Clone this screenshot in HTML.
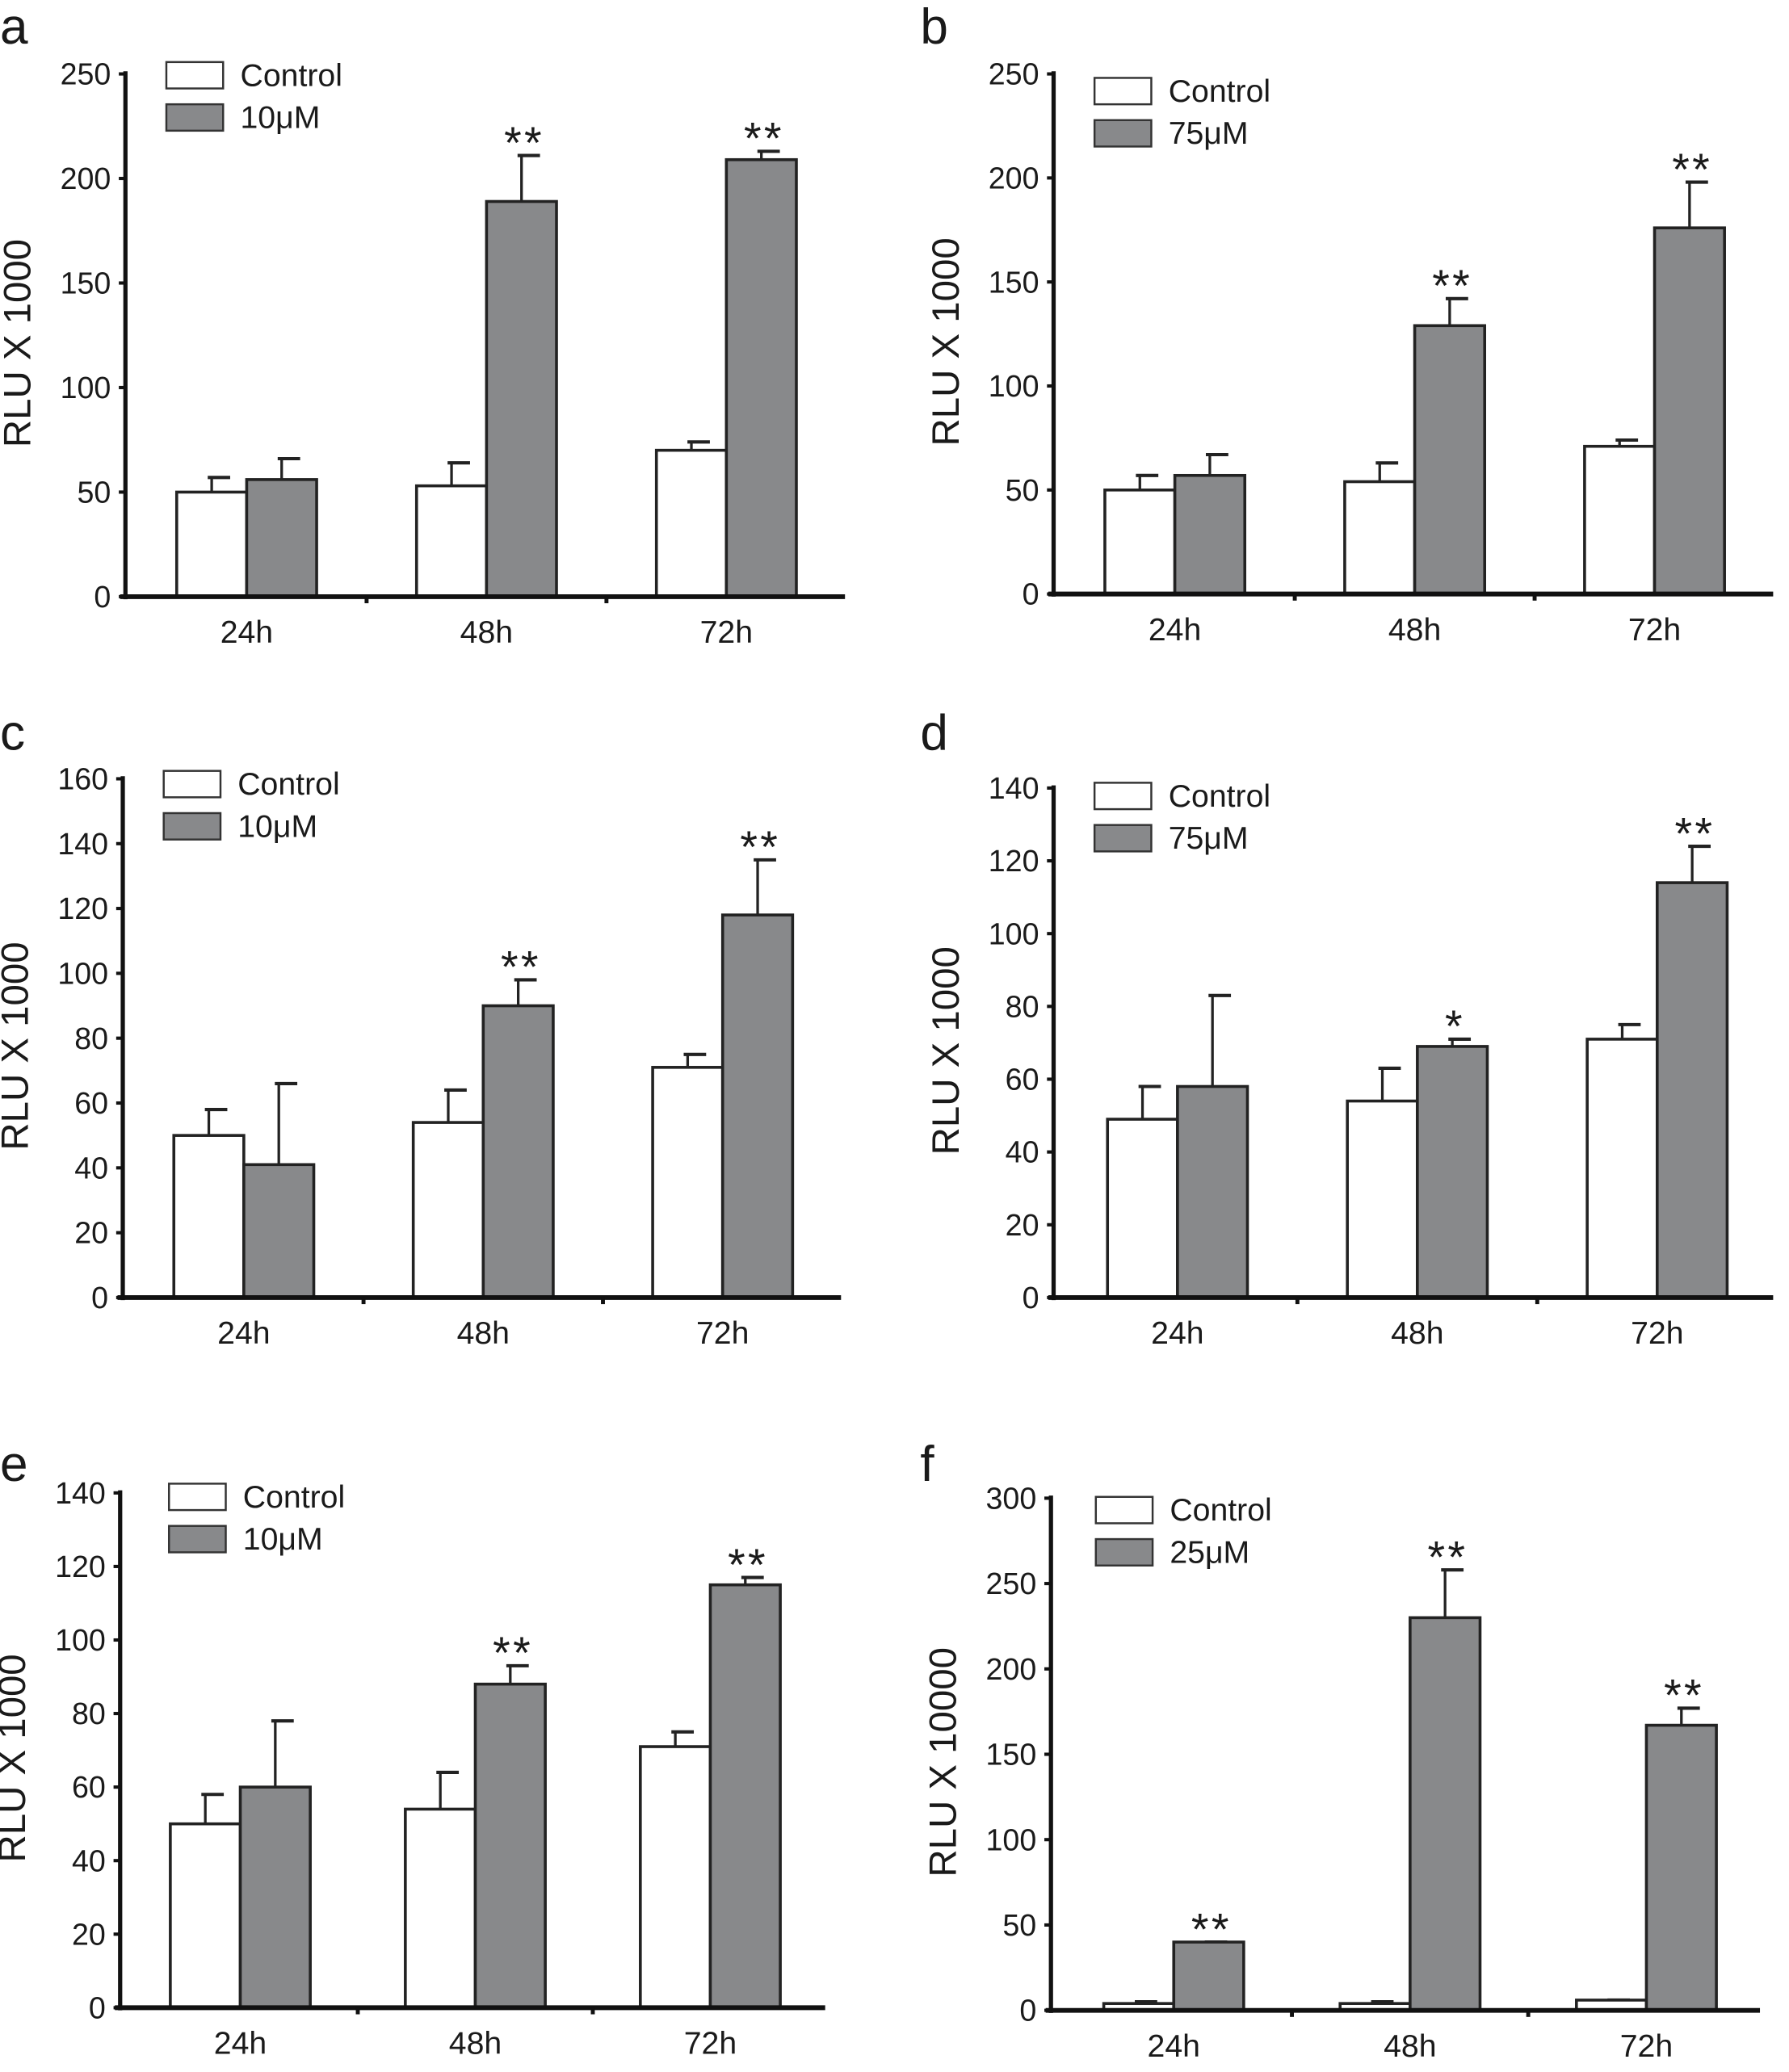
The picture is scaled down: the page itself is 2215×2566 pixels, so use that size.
<!DOCTYPE html>
<html><head><meta charset="utf-8"><style>
html,body{margin:0;padding:0;background:#fff}
svg{display:block}
text{font-family:"Liberation Sans",Arial,sans-serif;fill:#1a1a1a}
</style></head>
<body>
<svg id="fig" width="2215" height="2566" viewBox="0 0 1355 1569.7" xmlns="http://www.w3.org/2000/svg"></svg>
<script>
const categories = ["24h","48h","72h"];
// panel a
const aControl = [50,53,70], aControlErr = [57,64,74], aTreat = [56,189,209], aTreatErr = [66,211,213], aSig = ["","**","**"], aTicks = [0,50,100,150,200,250];
// panel b
const bControl = [50,54,71], bControlErr = [57,63,74], bTreat = [57,129,176], bTreatErr = [67,142,198], bSig = ["","**","**"], bTicks = [0,50,100,150,200,250];
// panel c
const cControl = [50,54,71], cControlErr = [58,64,75], cTreat = [41,90,118], cTreatErr = [66,98,135], cSig = ["","**","**"], cTicks = [0,20,40,60,80,100,120,140,160];
// panel d
const dControl = [49,54,71], dControlErr = [58,63,75], dTreat = [58,69,114], dTreatErr = [83,71,124], dSig = ["","*","**"], dTicks = [0,20,40,60,80,100,120,140];
// panel e
const eControl = [50,54,71], eControlErr = [58,64,75], eTreat = [60,88,115], eTreatErr = [78,93,117], eSig = ["","**","**"], eTicks = [0,20,40,60,80,100,120,140];
// panel f
const fControl = [4,4,6], fControlErr = [5,5,6], fTreat = [40,230,167], fTreatErr = [40,258,177], fSig = ["**","**","**"], fTicks = [0,50,100,150,200,250,300];

const NS = "http://www.w3.org/2000/svg";
const svg = document.getElementById('fig');
function mk(tag, attrs, parent, txt){
  const e = document.createElementNS(NS, tag);
  for (const k in attrs) e.setAttribute(k, attrs[k]);
  if (txt !== undefined) e.textContent = txt;
  (parent||svg).appendChild(e);
  return e;
}
function panel(p){
  const g = mk('g', {});
  
  
  const ymax = p.ticks[p.ticks.length-1];
  const y = v => p.y0 - (p.y0 - p.ytop) * v / ymax;
  const groupW = (p.xEnd - p.ax) / 3;
  const gx = i => p.ax + groupW * (i + 0.5);
  const L = mk('text', {x:p.lx, y:p.ly, 'font-size':38}, g, p.letter);
  
  
  for (let i = 0; i < 3; i++){
    const c = gx(i) + p.off;
    [[p.ctrl[i], p.ctrlE[i], c - p.bw, '#fff', 'control'], [p.tr[i], p.trE[i], c, '#88898b', 'treatment']].forEach(([v, e, x, fill, nm]) => {
      const ex = x + p.bw/2;
      const el = mk('line', {x1:ex, x2:ex, y1:y(v), y2:y(e), stroke:'#222', 'stroke-width':2}, g);
      
      
      const cap = mk('line', {x1:ex-3, x2:ex+14, y1:y(e), y2:y(e), stroke:'#222', 'stroke-width':2.5}, g);
      
      
      const r = mk('rect', {x:x, y:y(v), width:p.bw, height:p.y0 - y(v), fill:fill, stroke:'#222', 'stroke-width':2.2}, g);
      
      
    });
    if (p.sig[i]){
      const s = mk('text', {x:c + p.bw/2 + 2, y:y(p.trE[i]) + 2, 'font-size':34, 'text-anchor':'middle', 'letter-spacing':2}, g, p.sig[i]);
      
      
    }
    const xl = mk('text', {x:gx(i) + p.off, y:p.y0 + 35, 'font-size':24, 'text-anchor':'middle'}, g, categories[i]);
    
    
  }
  const ya = mk('line', {x1:p.ax, x2:p.ax, y1:p.ytop - 2, y2:p.y0 + 2, stroke:'#111', 'stroke-width':3.2}, g);
  
  
  const xa = mk('line', {x1:p.ax - 4, x2:p.xEnd, y1:p.y0, y2:p.y0, stroke:'#111', 'stroke-width':3.6}, g);
  
  
  for (let k = 1; k < 3; k++){
    const tx = p.ax + groupW * k + p.off;
    const t = mk('line', {x1:tx, x2:tx, y1:p.y0, y2:p.y0 + 5, stroke:'#111', 'stroke-width':3}, g);
    
    
  }
  p.ticks.forEach(v => {
    const t = mk('line', {x1:p.ax - 5, x2:p.ax, y1:y(v), y2:y(v), stroke:'#111', 'stroke-width':2.5}, g);
    
    
    const tl = mk('text', {x:p.ax - 11, y:y(v) + 8, 'font-size':23, 'text-anchor':'end'}, g, String(v));
    
    
  });
  const yt = mk('text', {x:0, y:0, 'font-size':29, 'text-anchor':'middle', transform:`translate(${p.ax - 72},${(p.y0 + p.ytop)/2 + 6}) rotate(-90)`}, g, p.ytitle);
  
  
  [['Control','#fff'],[p.treatName,'#88898b']].forEach(([lab, fill], j) => {
    const ly = p.legY + j*32;
    const sw = mk('rect', {x:p.legX, y:ly, width:43, height:20, fill:fill, stroke:'#333', 'stroke-width':1.5}, g);
    
    
    const lt = mk('text', {x:p.legX + 56, y:ly + 18, 'font-size':24}, g, lab);
    
    
  });
}
panel({letter:'a', lx:0, ly:33, ax:95, xEnd:640, y0:452, ytop:56, ticks:aTicks, ctrl:aControl, ctrlE:aControlErr, tr:aTreat, trE:aTreatErr, sig:aSig, bw:53, off:1, ytitle:'RLU X 1000', treatName:'10μM', legX:126, legY:47});
panel({letter:'b', lx:697, ly:33, ax:798, xEnd:1343, y0:450, ytop:56, ticks:bTicks, ctrl:bControl, ctrlE:bControlErr, tr:bTreat, trE:bTreatErr, sig:bSig, bw:53, off:1, ytitle:'RLU X 1000', treatName:'75μM', legX:829, legY:59});
panel({letter:'c', lx:0, ly:568, ax:93, xEnd:637, y0:983, ytop:590, ticks:cTicks, ctrl:cControl, ctrlE:cControlErr, tr:cTreat, trE:cTreatErr, sig:cSig, bw:53, off:1, ytitle:'RLU X 1000', treatName:'10μM', legX:124, legY:584});
panel({letter:'d', lx:697, ly:568, ax:798, xEnd:1343, y0:983, ytop:597, ticks:dTicks, ctrl:dControl, ctrlE:dControlErr, tr:dTreat, trE:dTreatErr, sig:dSig, bw:53, off:3, ytitle:'RLU X 1000', treatName:'75μM', legX:829, legY:593});
panel({letter:'e', lx:0, ly:1122, ax:91, xEnd:625, y0:1521, ytop:1131, ticks:eTicks, ctrl:eControl, ctrlE:eControlErr, tr:eTreat, trE:eTreatErr, sig:eSig, bw:53, off:2, ytitle:'RLU X 1000', treatName:'10μM', legX:128, legY:1124});
panel({letter:'f', lx:697, ly:1122, ax:796, xEnd:1333, y0:1523, ytop:1135, ticks:fTicks, ctrl:fControl, ctrlE:fControlErr, tr:fTreat, trE:fTreatErr, sig:fSig, bw:53, off:3.5, ytitle:'RLU X 10000', treatName:'25μM', legX:830, legY:1134});
</script>
</body></html>
